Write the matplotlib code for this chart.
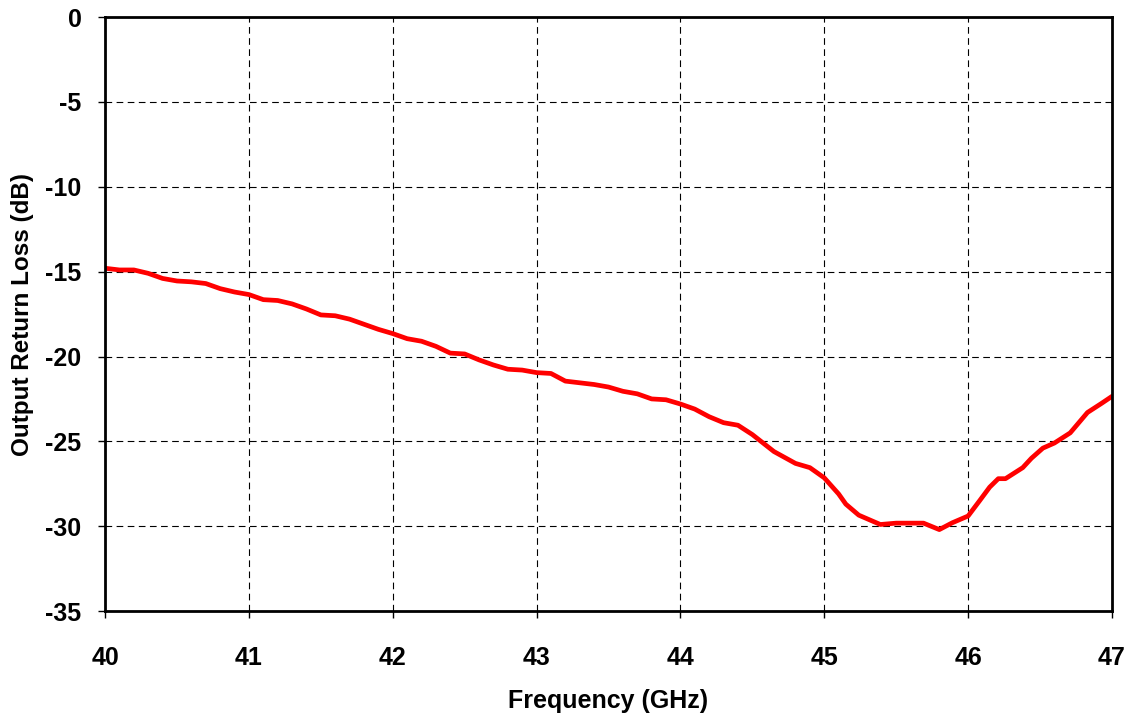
import matplotlib.pyplot as plt

plt.rcParams['font.family'] = ['Liberation Sans', 'DejaVu Sans']
plt.rcParams['axes.unicode_minus'] = False

# Output return loss
freq_ghz = [40.0, 40.1, 40.2, 40.3, 40.4, 40.5, 40.6, 40.7, 40.8, 40.9,
            41.0, 41.1, 41.2, 41.3, 41.4, 41.5, 41.6, 41.7, 41.8, 41.9,
            42.0, 42.1, 42.2, 42.3, 42.4, 42.5, 42.6, 42.7, 42.8, 42.9,
            43.0, 43.1, 43.2, 43.3, 43.4, 43.5, 43.6, 43.7, 43.8, 43.9,
            44.0, 44.1, 44.2, 44.3, 44.4, 44.5, 44.65, 44.8, 44.9,
            45.0, 45.1, 45.15, 45.24, 45.39, 45.5, 45.69, 45.8, 45.89,
            46.0, 46.08, 46.15, 46.21, 46.26, 46.38, 46.44, 46.52, 46.6,
            46.71, 46.83, 46.93, 47.0]
return_loss_db = [-14.8, -14.9, -14.9, -15.1, -15.4, -15.55, -15.6, -15.7, -16.0, -16.2,
                  -16.35, -16.65, -16.7, -16.9, -17.2, -17.55, -17.6, -17.8, -18.1, -18.4,
                  -18.65, -18.95, -19.1, -19.4, -19.8, -19.85, -20.2, -20.5, -20.75, -20.8,
                  -20.95, -21.0, -21.45, -21.55, -21.65, -21.8, -22.05, -22.2, -22.5, -22.55,
                  -22.8, -23.1, -23.55, -23.9, -24.05, -24.6, -25.6, -26.3, -26.55,
                  -27.15, -28.1, -28.7, -29.35, -29.9, -29.82, -29.82, -30.2, -29.8,
                  -29.4, -28.5, -27.7, -27.2, -27.2, -26.55, -26.0, -25.4, -25.1,
                  -24.5, -23.3, -22.75, -22.35]

x_ticks = [40, 41, 42, 43, 44, 45, 46, 47]
y_ticks = [0, -5, -10, -15, -20, -25, -30, -35]

fig = plt.figure(figsize=(11.3, 7.13), dpi=100)
ax = fig.add_axes([0.093, 0.143, 0.891, 0.833])

ax.plot(freq_ghz, return_loss_db, color='#ff0000', linewidth=3.4,
        solid_capstyle='round', solid_joinstyle='round')

ax.set_xlim(40, 47)
ax.set_ylim(-35, 0)
ax.set_xticks(x_ticks)
ax.set_yticks(y_ticks)
ax.grid(True, color='black', linestyle=(0, (6, 4)), linewidth=0.8)
ax.set_axisbelow(True)

for s in ax.spines.values():
    s.set_linewidth(2.0)
    s.set_color('black')

ax.tick_params(direction='out', length=5, width=1, labelsize=18)
ax.tick_params(axis='x', pad=20)
ax.tick_params(axis='y', pad=12)
for lbl in ax.get_xticklabels() + ax.get_yticklabels():
    lbl.set_fontweight('bold')

ax.set_xlabel('Frequency (GHz)', fontsize=18, fontweight='bold', labelpad=14)
ax.set_ylabel('Output Return Loss (dB)', fontsize=17.5, fontweight='bold', labelpad=8)

fig.savefig('out.png', dpi=100)
